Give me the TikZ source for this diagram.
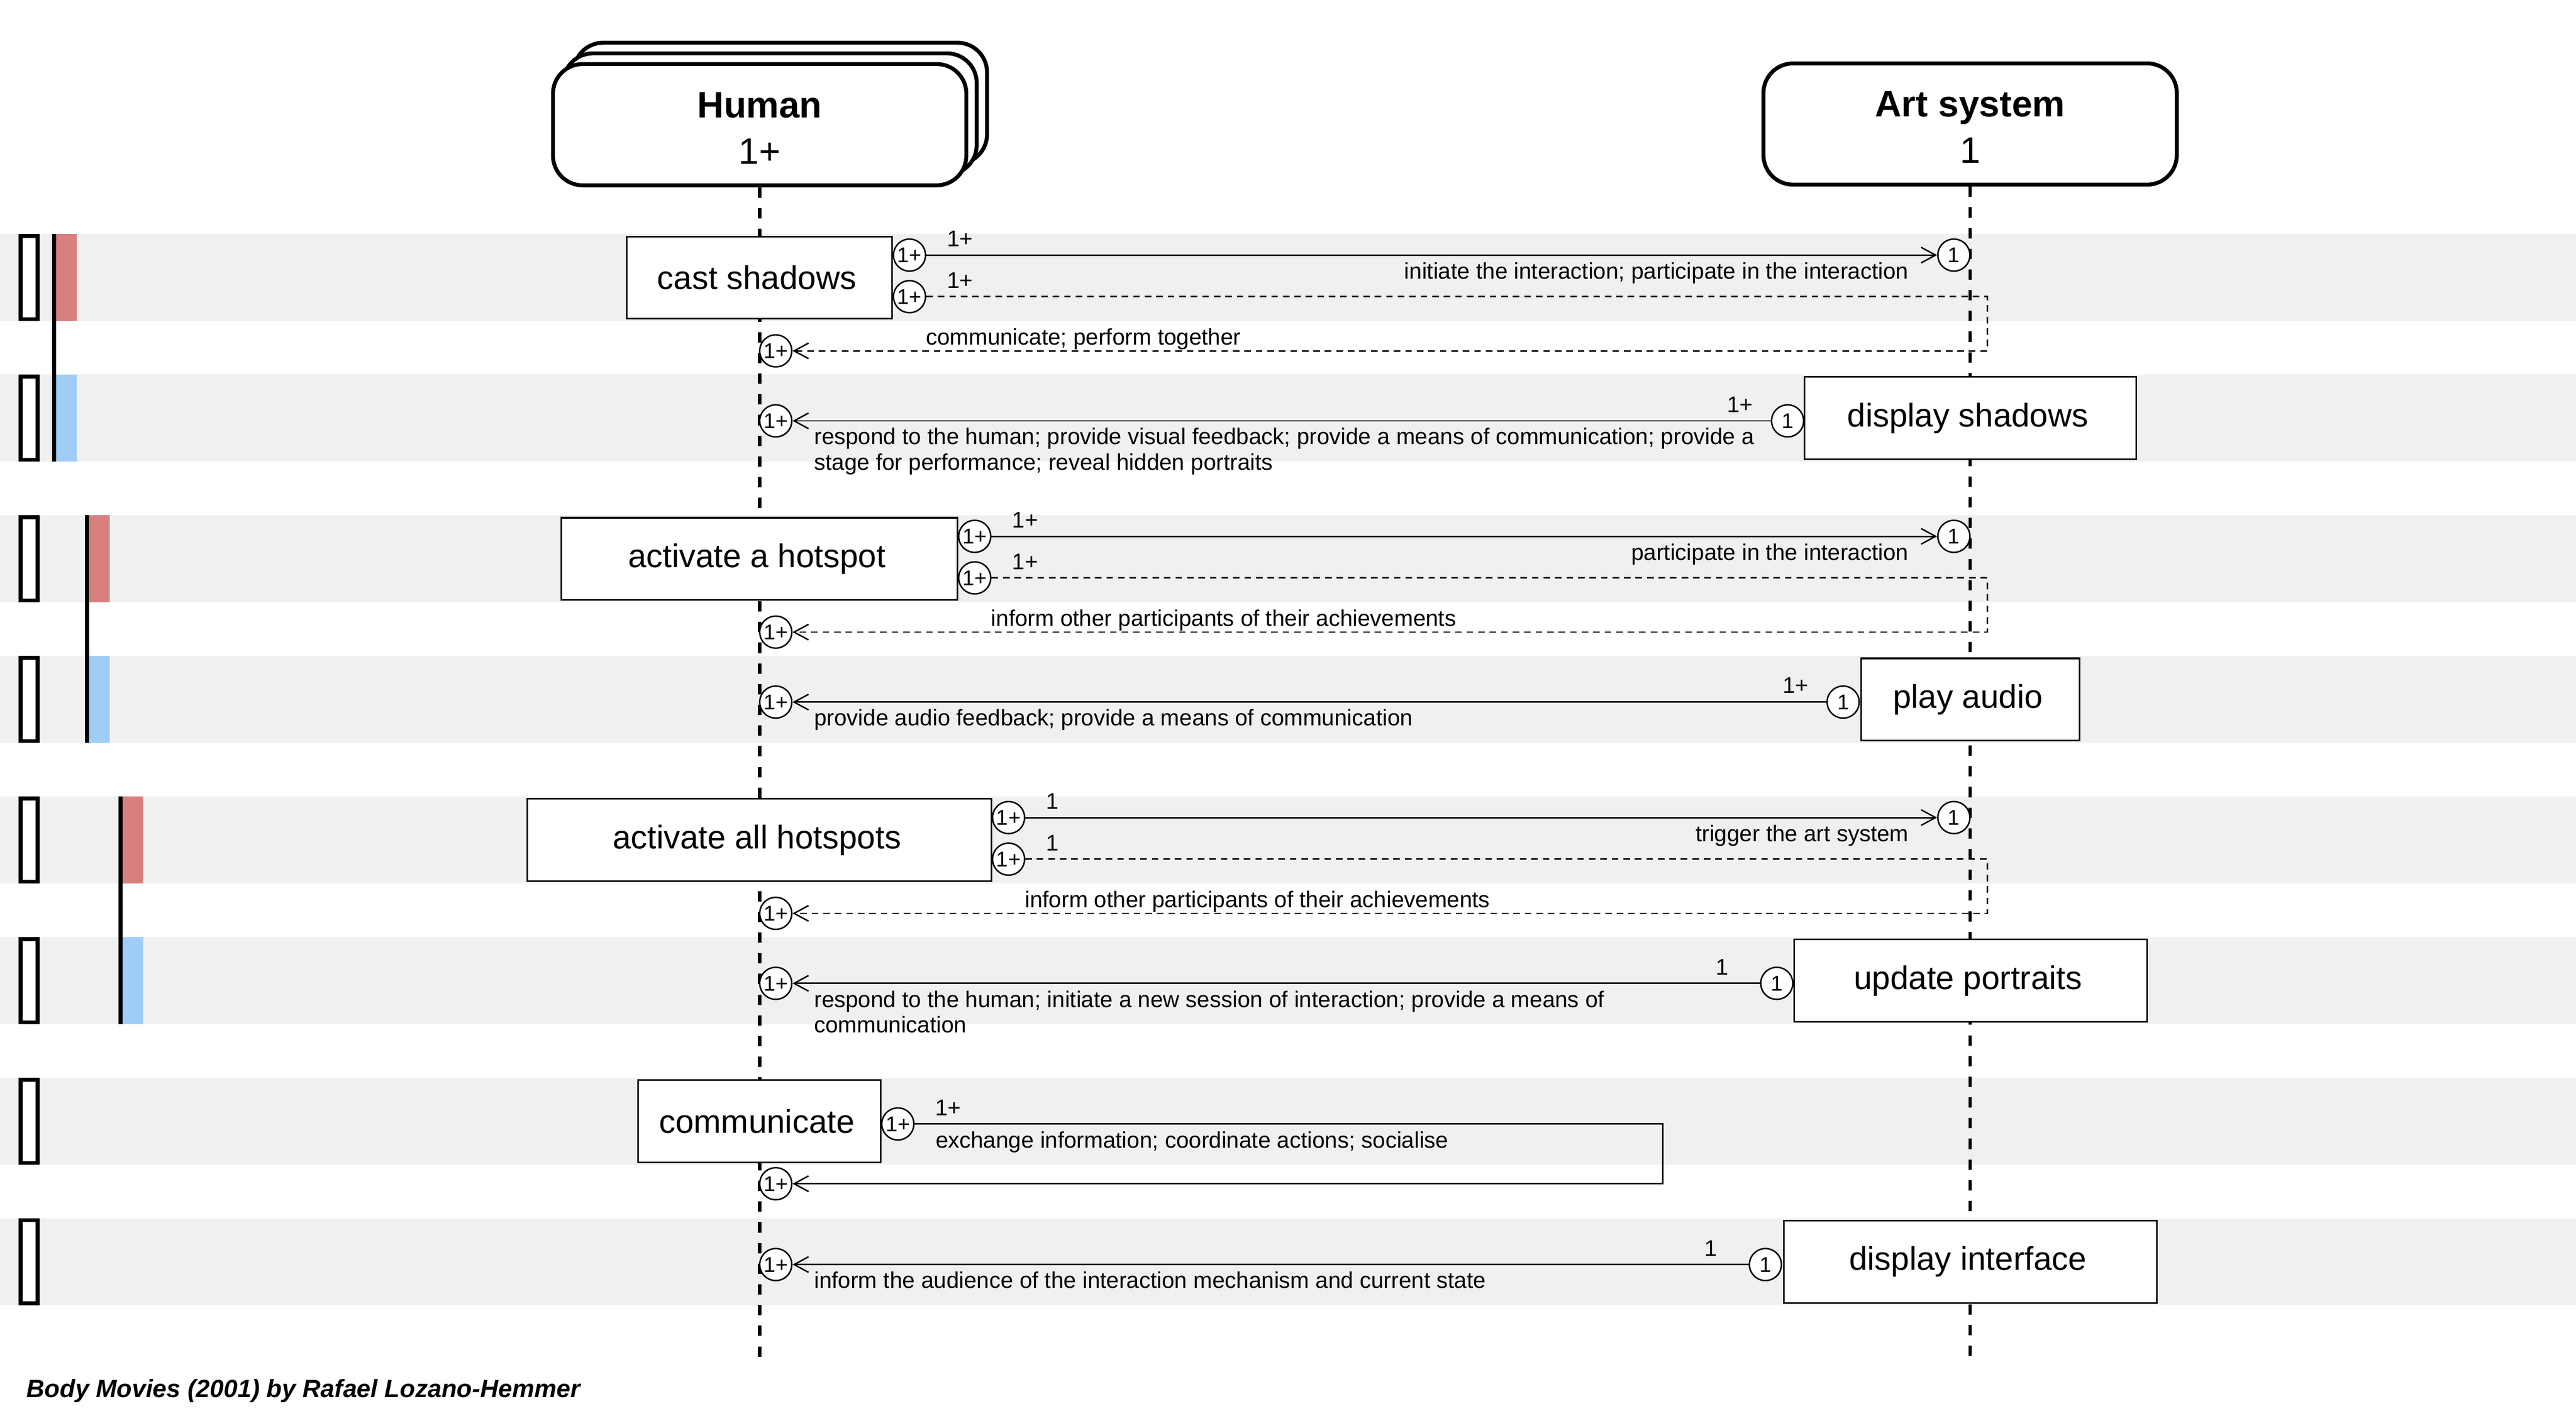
\documentclass[tikz,border=0pt]{standalone}
\usepackage{fontspec}
\setmainfont{Liberation Sans}
\usetikzlibrary{arrows.meta}
\definecolor{bandgray}{RGB}{240,240,240}
\definecolor{redbar}{RGB}{216,128,128}
\definecolor{bluebar}{RGB}{160,205,248}
\begin{document}
\begin{tikzpicture}[x=1pt,y=-1pt,
  actbox/.style={draw,line width=1pt,fill=white,minimum height=50pt,inner sep=0pt,font=\fontsize{20}{24}\selectfont},
  mult/.style={circle,draw,line width=0.9pt,fill=white,minimum size=19.5pt,inner sep=0pt,font=\fontsize{13}{14}\selectfont},
  lbl/.style={inner sep=0pt,font=\fontsize{13.8}{15.5}\selectfont},
  msg/.style={line width=0.9pt,-{Straight Barb[length=8.8pt,width=9.5pt]}},
  ret/.style={msg,dash pattern=on 4pt off 3pt},
  lifeline/.style={line width=2pt,dash pattern=on 6.3pt off 6.3pt},
  titlebox/.style={draw,line width=2.4pt,fill=white,rounded corners=18pt,minimum width=251.6pt,minimum height=73.8pt,align=center,font=\fontsize{22.4}{28.2}\selectfont},
  marker/.style={draw,line width=2.4pt,fill=white},
  groupline/.style={line width=2.6pt},
]
\useasboundingbox (0,0) rectangle (1568,858.67);
% bands
\foreach \t in {142.4,228,313.6,399.2,484.8,570.4,656,741.6}{
  \fill[bandgray] (0,\t) rectangle (1568,\t+53.1);
  \draw[marker] (12.6,\t+1.2) rectangle (22.8,\t+51.9);
}
% grouping bars
\fill[redbar] (34.2,142.4) rectangle (46.7,195.5);
\fill[bluebar] (34.2,228) rectangle (46.7,281.1);
\draw[groupline] (32.9,142.4) -- (32.9,281.1);
\fill[redbar] (54.4,313.6) rectangle (66.9,366.7);
\fill[bluebar] (54.4,399.2) rectangle (66.9,452.3);
\draw[groupline] (53.1,313.6) -- (53.1,452.3);
\fill[redbar] (74.6,484.8) rectangle (87.1,537.9);
\fill[bluebar] (74.6,570.4) rectangle (87.1,623.5);
\draw[groupline] (73.3,484.8) -- (73.3,623.5);

% participants
\node[titlebox] (humanback) at (475.0,62.9) {};
\node[titlebox] (humanmid) at (468.7,69.4) {};
\node[titlebox] (human) at (462.4,75.9) {\rule{0pt}{19.5pt}\textbf{Human}\\1+};
\node[titlebox] (art) at (1199.2,75.5) {\rule{0pt}{19.5pt}\textbf{Art system}\\1};
\coordinate (humanend) at (462.4,828);
\coordinate (artend) at (1199.2,828);
\draw[lifeline] (human.south) -- (humanend);
\draw[lifeline] (art.south) -- (artend);

% activity boxes
\node[actbox,minimum width=161.6pt] (castshadows) at (462.2,169.0) {cast shadows\hspace*{3pt}};
\node[actbox,minimum width=201.8pt] (displayshadows) at (1199.3,254.5) {display shadows\hspace*{3pt}};
\node[actbox,minimum width=241pt] (activatehotspot) at (462.2,340.15) {activate a hotspot\hspace*{3pt}};
\node[actbox,minimum width=133pt] (playaudio) at (1199.3,425.75) {play audio\hspace*{3pt}};
\node[actbox,minimum width=282.4pt] (activateall) at (462.2,511.35) {activate all hotspots\hspace*{3pt}};
\node[actbox,minimum width=214.8pt] (updateportraits) at (1199.4,596.95) {update portraits\hspace*{3pt}};
\node[actbox,minimum width=147.6pt] (communicate) at (462.2,682.55) {communicate\hspace*{3pt}};
\node[actbox,minimum width=227pt] (displayinterface) at (1199.3,768.15) {display interface\hspace*{3pt}};

% multiplicity circles
\node[mult] (s1a) at (553.6,155.3) {1+};
\node[mult] (t1a) at (1189.3,155.3) {1};
\node[mult] (s1b) at (553.6,180.6) {1+};
\node[mult] (t1b) at (472.2,213.6) {1+};
\node[mult] (s2) at (1088.1,256.2) {1};
\node[mult] (t2) at (472.2,256.2) {1+};
\node[mult] (s3a) at (593.3,326.5) {1+};
\node[mult] (t3a) at (1189.3,326.5) {1};
\node[mult] (s3b) at (593.3,351.8) {1+};
\node[mult] (t3b) at (472.2,384.8) {1+};
\node[mult] (s4) at (1121.9,427.4) {1};
\node[mult] (t4) at (472.2,427.4) {1+};
\node[mult] (s5a) at (613.9,497.7) {1+};
\node[mult] (t5a) at (1189.3,497.7) {1};
\node[mult] (s5b) at (613.9,523.0) {1+};
\node[mult] (t5b) at (472.2,556.0) {1+};
\node[mult] (s6) at (1081.5,598.6) {1};
\node[mult] (t6) at (472.2,598.6) {1+};
\node[mult] (s7) at (546.5,684.2) {1+};
\node[mult] (t7) at (472.2,720.6) {1+};
\node[mult] (s8) at (1074.6,769.8) {1};
\node[mult] (t8) at (472.2,769.8) {1+};

% bend points
\coordinate (c1) at (1209.6,213.6);
\coordinate (c3) at (1209.6,384.8);
\coordinate (c5) at (1209.6,556.0);
\coordinate (c7) at (1012.0,720.6);

% messages
\draw[msg] (s1a) -- (t1a);
\draw[ret] (s1b) -| (c1) -- (t1b);
\draw[msg] (s2) -- (t2);
\draw[msg] (s3a) -- (t3a);
\draw[ret] (s3b) -| (c3) -- (t3b);
\draw[msg] (s4) -- (t4);
\draw[msg] (s5a) -- (t5a);
\draw[ret] (s5b) -| (c5) -- (t5b);
\draw[msg] (s6) -- (t6);
\draw[msg] (s7) -| (c7) -- (t7);
\draw[msg] (s8) -- (t8);

% labels
\node[lbl,anchor=base] (m1a) at (584.3,150.2) {1+};
\node[lbl,anchor=base east] (l1a) at (1161.9,169.9) {initiate the interaction; participate in the interaction};
\node[lbl,anchor=base] (m1b) at (584.3,175.5) {1+};
\node[lbl,anchor=base west] (l1b) at (563.4,210.0) {communicate; perform together};

\node[lbl,anchor=base] (m2) at (1059.1,250.9) {1+};
\node[lbl,anchor=base west,align=left] (l2) at (495.4,286.1) {respond to the human; provide visual feedback; provide a means of communication; provide a\\stage for performance; reveal hidden portraits};

\node[lbl,anchor=base] (m3a) at (624.0,321.3) {1+};
\node[lbl,anchor=base east] (l3a) at (1161.9,341.1) {participate in the interaction};
\node[lbl,anchor=base] (m3b) at (624.0,346.6) {1+};
\node[lbl,anchor=base west] (l3b) at (603.1,381.2) {inform other participants of their achievements};

\node[lbl,anchor=base] (m4) at (1093.0,422.1) {1+};
\node[lbl,anchor=base west] (l4) at (495.4,441.8) {provide audio feedback; provide a means of communication};

\node[lbl,anchor=base] (m5a) at (640.5,492.5) {1};
\node[lbl,anchor=base east] (l5a) at (1161.9,512.3) {trigger the art system};
\node[lbl,anchor=base] (m5b) at (640.5,517.8) {1};
\node[lbl,anchor=base west] (l5b) at (623.7,552.4) {inform other participants of their achievements};

\node[lbl,anchor=base] (m6) at (1048.2,593.4) {1};
\node[lbl,anchor=base west,align=left] (l6) at (495.4,628.7) {respond to the human; initiate a new session of interaction; provide a means of\\communication};

\node[lbl,anchor=base] (m7) at (577.2,679.0) {1+};
\node[lbl,anchor=base west] (l7) at (569.3,698.8) {exchange information; coordinate actions; socialise};

\node[lbl,anchor=base] (m8) at (1041.3,764.6) {1};
\node[lbl,anchor=base west] (l8) at (495.4,784.2) {inform the audience of the interaction mechanism and current state};

% caption
\node[anchor=base west,inner sep=0pt,font=\fontsize{15.2}{18}\selectfont\bfseries\itshape] (caption) at (16.1,850.5) {Body Movies (2001) by Rafael Lozano-Hemmer};
\end{tikzpicture}
\end{document}
